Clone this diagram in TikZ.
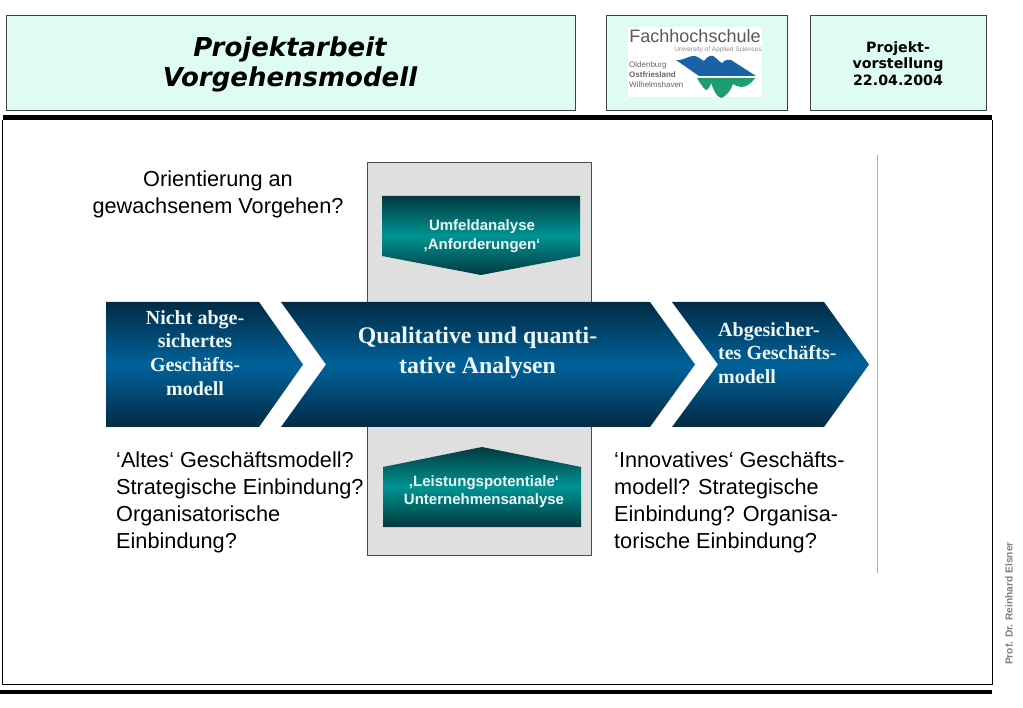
\documentclass[tikz,border=0pt]{standalone}
\usepackage{fontspec}
\setmainfont{Liberation Sans}
\newfontfamily\headfont{DejaVu Sans}
\newfontfamily\arrowfont{Liberation Serif}
\usepackage{tikz}
\usetikzlibrary{positioning}
\definecolor{headbg}{HTML}{DFFCF3}
\definecolor{boxgray}{HTML}{DFDFDF}
\definecolor{bluedark}{HTML}{022B45}
\definecolor{bluemid}{HTML}{00629A}
\definecolor{tealdark}{HTML}{01393F}
\definecolor{tealmid}{HTML}{009392}
\definecolor{logoblue}{HTML}{1A62A8}
\definecolor{logogreen}{HTML}{1E9E6E}
\definecolor{arrowtext}{HTML}{EEF7F6}
\tikzset{
  headbox/.style={draw=black!75,line width=0.9pt,fill=headbg},
  bluearrow/.style={top color=bluedark,bottom color=bluedark,middle color=bluemid,draw=none},
  tealarrow/.style={top color=tealdark,bottom color=tealdark,middle color=tealmid,draw=none},
  bodytext/.style={font=\fontsize{21.7}{27}\selectfont,align=left,anchor=north west,inner sep=0pt},
  tealtext/.style={font=\fontsize{15}{18.5}\selectfont\bfseries,text=arrowtext,align=center,inner sep=0pt},
  arrowlabel/.style={font=\arrowfont\bfseries\fontsize{20}{23.7}\selectfont,text=arrowtext,inner sep=0pt},
  logotext/.style={font=\fontsize{8}{8}\selectfont,text=black!60,anchor=west,inner sep=0pt}
}
\begin{document}
\begin{tikzpicture}[x=1pt,y=-1pt]
\useasboundingbox (0,0) rectangle (1023,708);
\fill[white] (0,0) rectangle (1023,708);
\draw[headbox] (6,15) rectangle (575,110);
\draw[headbox] (606,15) rectangle (787,110);
\draw[headbox] (810,15) rectangle (986,110);
\node[font=\headfont\bfseries\itshape\fontsize{26}{29.5}\selectfont,align=center] (title) at (290,64.5) {Projektarbeit\\Vorgehensmodell};
\node[font=\headfont\bfseries\fontsize{14.2}{16.5}\selectfont,align=center] (date) at (898,63.5) {Projekt-\\vorstellung\\22.04.2004};
\fill[white] (628,27) rectangle (762,97);
\node[font=\fontsize{18}{18}\selectfont,text=black!65,inner sep=0pt] (logoname) at (695,36) {Fachhochschule};
\node[font=\fontsize{6.5}{6.5}\selectfont,text=black!45,anchor=east,inner sep=0pt] (logouni) at (762,50) {University of Applied Sciences};
\node[logotext] (logocityA) at (629,65.5) {Oldenburg};
\node[logotext,font=\fontsize{8}{8}\selectfont\bfseries] (logocityB) at (629,75) {Ostfriesland};
\node[logotext] (logocityC) at (629,84.5) {Wilhelmshaven};
\fill[logoblue] (676,60) .. controls (684,61) and (689,55) .. (695,56) .. controls (699,57) and (701,60) .. (704,61)
  .. controls (707,57) and (710,55) .. (713,56) .. controls (717,58) and (719,62) .. (722,63)
  .. controls (725,60) and (728,59) .. (731,60) -- (756,76) -- (699,76) -- cycle;
\fill[logogreen] (697,78) -- (755,78) .. controls (751,84) and (746,87) .. (741,87) .. controls (738,87) and (735,85) .. (733,84)
  .. controls (731,90) and (726,97) .. (721,98) .. controls (716,97) and (713,88) .. (711,83)
  .. controls (710,87) and (708,90) .. (706,90) .. controls (703,88) and (700,83) .. (697,78) -- cycle;
\draw[draw=black!30,line width=0.9pt] (877,155) -- (877,573);
\draw[draw=black!70,fill=boxgray,line width=0.8pt] (367,162) rectangle (591,555);
\shade[tealarrow] (382,196) -- (580,196) -- (580,256) -- (481,275) -- (382,256) -- cycle;
\shade[tealarrow] (383,527) -- (581,527) -- (581,467) -- (482,447) -- (383,467) -- cycle;
\node[tealtext] (umfeld) at (482,236) {Umfeldanalyse\\‚Anforderungen‘};
\node[tealtext] (leistung) at (484,491.5) {‚Leistungspotentiale‘\\Unternehmensanalyse};
\shade[bluearrow] (106,302) -- (259,302) -- (303,364.5) -- (259,427) -- (106,427) -- cycle;
\shade[bluearrow] (281,302) -- (650,302) -- (695,364.5) -- (650,427) -- (281,427) -- (326,364.5) -- cycle;
\shade[bluearrow] (672,302) -- (824,302) -- (869,364.5) -- (824,427) -- (672,427) -- (718,364.5) -- cycle;
\node[arrowlabel,align=center] (start) at (195,353) {Nicht abge-\\sichertes\\Geschäfts-\\modell};
\node[arrowlabel,font=\arrowfont\bfseries\fontsize{23.8}{30}\selectfont,align=center] (analyse) at (477.5,353) {Qualitative und quanti-\\tative Analysen};
\node[arrowlabel,align=left,anchor=west] (ziel) at (718,353) {Abgesicher-\\tes Geschäfts-\\modell};
\node[bodytext,align=center,anchor=center] (frage) at (218,194) {Orientierung an\\gewachsenem Vorgehen?};
\node[bodytext] (alt) at (116,451.5) {‘Altes‘ Geschäftsmodell?\\Strategische Einbindung?\\Organisatorische\\Einbindung?};
\node[bodytext] (neu) at (614,451.5) {‘Innovatives‘ Geschäfts-\\modell? Strategische\\Einbindung? Organisa-\\torische Einbindung?};
\draw[line width=1pt] (2,120) -- (2,684) -- (992,684) -- (992,120);
\fill[black] (3,115) rectangle (992,120);
\fill[black] (0,689.5) rectangle (992,694);
\node[rotate=90,font=\fontsize{10.2}{10.2}\selectfont\bfseries,text=black!50,inner sep=0pt] (autor) at (1009,603.5) {Prof. Dr. Reinhard Elsner};
\end{tikzpicture}
\end{document}
